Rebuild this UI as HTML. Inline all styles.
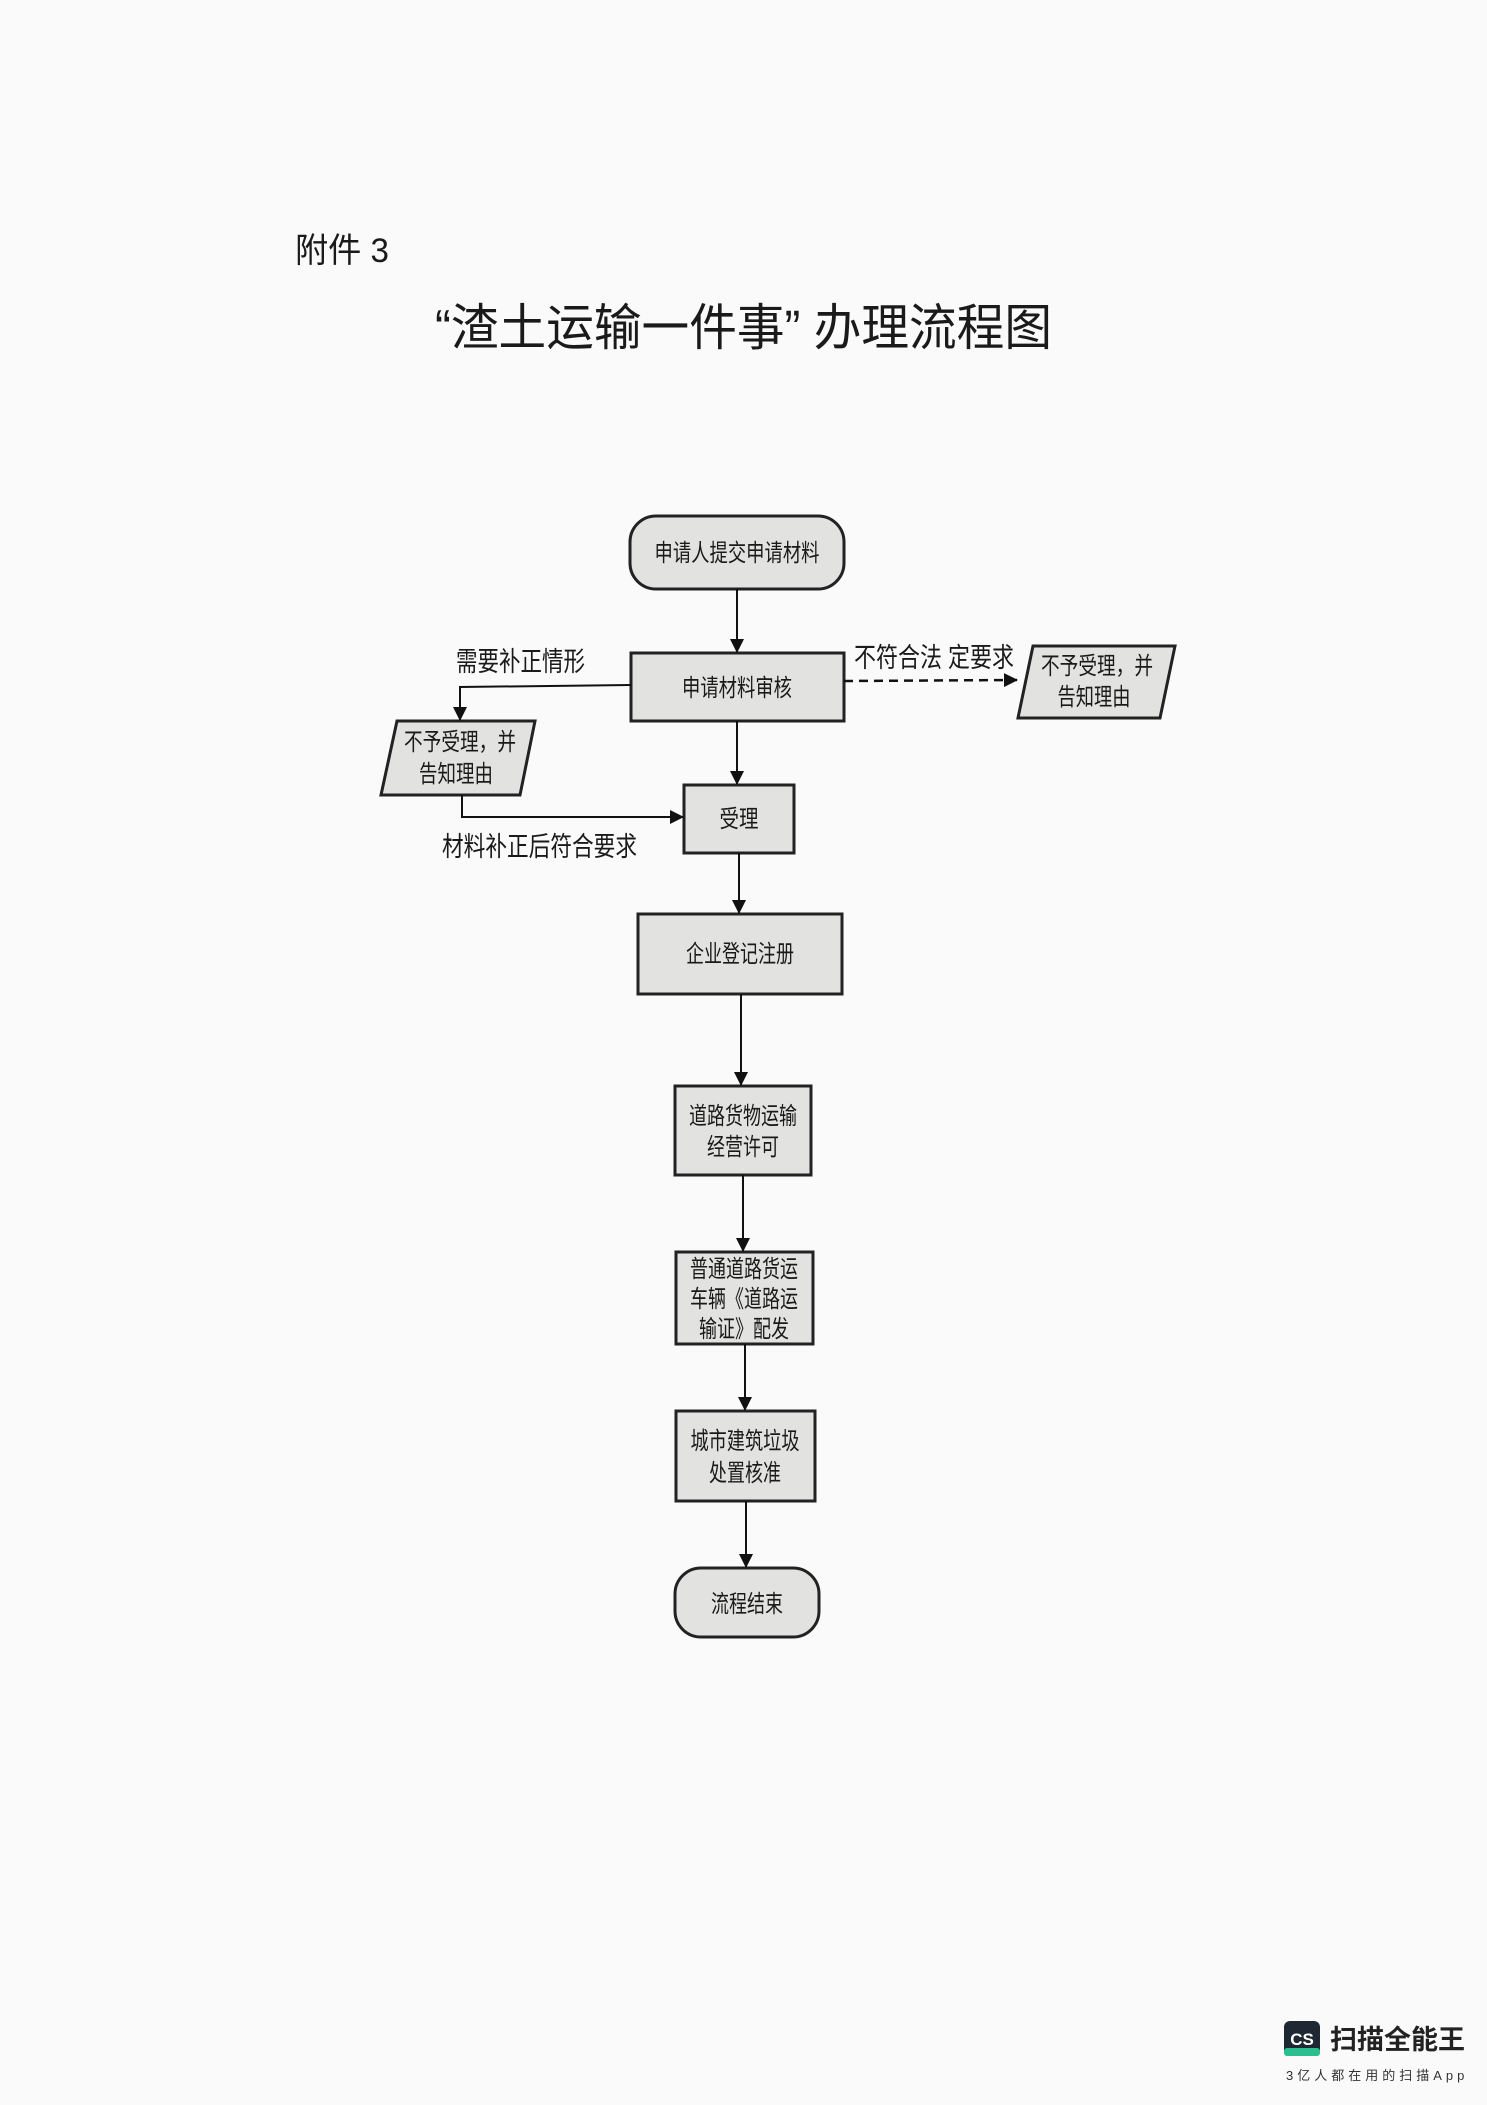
<!DOCTYPE html>
<html><head><meta charset="utf-8"><style>
html,body{margin:0;padding:0;background:#fafafa;}
svg{display:block;}
text{font-family:"Liberation Sans","Noto Sans CJK SC",sans-serif;fill:#1a1a1a;}
</style></head><body>
<svg width="1487" height="2105" viewBox="0 0 1487 2105" xmlns="http://www.w3.org/2000/svg">
<defs>
<marker id="ah" markerWidth="14" markerHeight="14" refX="13" refY="7" orient="auto" markerUnits="userSpaceOnUse">
<path d="M0,0 L14,7 L0,14 z" fill="#111"/></marker>
</defs>
<rect width="1487" height="2105" fill="#fafafa"/>
<text x="295" y="262" font-size="34" textLength="94" lengthAdjust="spacingAndGlyphs">附件 3</text>
<text x="435" y="345" font-size="50" textLength="617" lengthAdjust="spacingAndGlyphs">“渣土运输一件事” 办理流程图</text>

<g stroke="#222" stroke-width="3" fill="#e2e3e1">
<rect x="630" y="516" width="214" height="73" rx="26"/>
<rect x="631" y="653" width="213" height="68"/>
<polygon points="397,721 535,721 520,795 381,795"/>
<polygon points="1033,646 1175,646 1160,718 1018,718"/>
<rect x="684" y="785" width="110" height="68"/>
<rect x="638" y="914" width="204" height="80"/>
<rect x="675" y="1086" width="136" height="89"/>
<rect x="676" y="1252" width="137" height="92"/>
<rect x="676" y="1411" width="139" height="90"/>
<rect x="675" y="1568" width="144" height="69" rx="26"/>
</g>

<g stroke="#111" stroke-width="2" fill="none">
<line x1="737" y1="589" x2="737" y2="652" marker-end="url(#ah)"/>
<line x1="737" y1="721" x2="737" y2="784" marker-end="url(#ah)"/>
<line x1="739" y1="853" x2="739" y2="913" marker-end="url(#ah)"/>
<line x1="741" y1="994" x2="741" y2="1085" marker-end="url(#ah)"/>
<line x1="743" y1="1175" x2="743" y2="1251" marker-end="url(#ah)"/>
<line x1="745" y1="1344" x2="745" y2="1410" marker-end="url(#ah)"/>
<line x1="746" y1="1501" x2="746" y2="1567" marker-end="url(#ah)"/>
<polyline points="631,685 460,687 460,720" marker-end="url(#ah)"/>
<polyline points="462,795 462,817 683,817" marker-end="url(#ah)"/>
<line x1="844" y1="681" x2="1017" y2="680" stroke-dasharray="9,6" stroke-width="2.5" marker-end="url(#ah)"/>
</g>

<g font-size="24" text-anchor="middle" lengthAdjust="spacingAndGlyphs">
<text x="737" y="561" textLength="165" lengthAdjust="spacingAndGlyphs">申请人提交申请材料</text>
<text x="737" y="696" textLength="110" lengthAdjust="spacingAndGlyphs">申请材料审核</text>
<text x="460" y="750" textLength="112" lengthAdjust="spacingAndGlyphs">不予受理，并</text>
<text x="456" y="782" textLength="74" lengthAdjust="spacingAndGlyphs">告知理由</text>
<text x="1097" y="674" textLength="112" lengthAdjust="spacingAndGlyphs">不予受理，并</text>
<text x="1094" y="705" textLength="73" lengthAdjust="spacingAndGlyphs">告知理由</text>
<text x="739" y="827" textLength="39" lengthAdjust="spacingAndGlyphs">受理</text>
<text x="740" y="962" textLength="108" lengthAdjust="spacingAndGlyphs">企业登记注册</text>
<text x="743" y="1124" textLength="108" lengthAdjust="spacingAndGlyphs">道路货物运输</text>
<text x="743" y="1155" textLength="72" lengthAdjust="spacingAndGlyphs">经营许可</text>
<text x="744" y="1277" textLength="108" lengthAdjust="spacingAndGlyphs">普通道路货运</text>
<text x="744" y="1307" textLength="108" lengthAdjust="spacingAndGlyphs">车辆《道路运</text>
<text x="744" y="1337" textLength="90" lengthAdjust="spacingAndGlyphs">输证》配发</text>
<text x="745" y="1449" textLength="109" lengthAdjust="spacingAndGlyphs">城市建筑垃圾</text>
<text x="745" y="1481" textLength="72" lengthAdjust="spacingAndGlyphs">处置核准</text>
<text x="747" y="1612" textLength="72" lengthAdjust="spacingAndGlyphs">流程结束</text>
</g>
<g font-size="27">
<text x="456" y="671" textLength="129" lengthAdjust="spacingAndGlyphs">需要补正情形</text>
<text x="854" y="667" textLength="160" lengthAdjust="spacingAndGlyphs">不符合法 定要求</text>
<text x="442" y="856" textLength="195" lengthAdjust="spacingAndGlyphs">材料补正后符合要求</text>
</g>

<rect x="1284" y="2021" width="36" height="35" rx="6" fill="#1f2733"/>
<rect x="1284" y="2048" width="36" height="8" rx="3" fill="#2bbf8f"/>
<text x="1302" y="2045" font-size="17" font-weight="bold" text-anchor="middle" style="fill:#fff">CS</text>
<text x="1330" y="2049" font-size="27" font-weight="bold" style="fill:#222">扫描全能王</text>
<text x="1286" y="2080" font-size="13" letter-spacing="4" style="fill:#333">3亿人都在用的扫描App</text>
</svg>
</body></html>
